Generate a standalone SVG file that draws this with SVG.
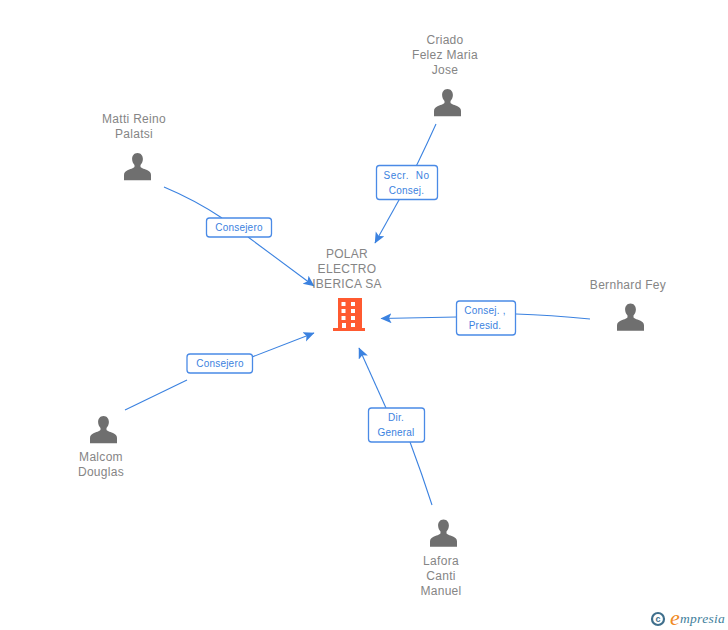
<svg xmlns="http://www.w3.org/2000/svg" width="728" height="630" viewBox="0 0 728 630">
<style>
text{font-family:"Liberation Sans",Arial,sans-serif}
.n{font-size:12px;fill:#858585;text-anchor:middle;letter-spacing:.3px}
.l{font-size:10px;fill:#3b82e0;text-anchor:middle;letter-spacing:.2px}
.c{fill:none;stroke:#3b82e0;stroke-width:1.1}
.b{fill:#fff;stroke:#4a8ae6;stroke-width:1.3}
.p{fill:#6f6f6f}
</style>
<defs>
<marker id="a" markerWidth="13" markerHeight="12" refX="10.500" refY="5" orient="auto" markerUnits="userSpaceOnUse"><path d="M0 0L11 5L0 10L2.500 5Z" fill="#3b82e0"/></marker>
<path id="u" d="M0-14.500C-3.600-14.500-5.400-11.500-5.400-8.500C-5.400-6-4.300-3.800-3-2.500V-.8C-3 .2-6 1-9.500 2.600C-12 3.800-13.500 5-13.500 7.500V12.800H13.500V7.500C13.500 5 12 3.800 9.500 2.600C6 1 3 .2 3-.8V-2.500C4.300-3.800 5.400-6 5.400-8.500C5.400-11.500 3.600-14.500 0-14.500Z"/>
</defs>
<g id="connectors">
<path class="c" d="M436 124Q418 164 399 200"/>
<path class="c" d="M399 200L375 243" marker-end="url(#a)"/>
<path class="c" d="M164 187Q195 200 222 218"/>
<path class="c" d="M248 237L314 286" marker-end="url(#a)"/>
<path class="c" d="M590 319Q550 315 516 314"/>
<path class="c" d="M457 317L381 318.500" marker-end="url(#a)"/>
<path class="c" d="M125 410L187 380"/>
<path class="c" d="M252 357L314 333" marker-end="url(#a)"/>
<path class="c" d="M432 505Q422 474 410 442"/>
<path class="c" d="M386 408L359 348" marker-end="url(#a)"/>
</g>
<g id="node-polar">
<text class="n" x="347" y="258">POLAR</text>
<text class="n" x="347" y="273">ELECTRO</text>
<text class="n" x="347" y="288">IBERICA SA</text>
<path fill="#ff5a30" fill-rule="evenodd" d="M338 298H362V328H365V331H333V328H338ZM341.500 302V306H345.500V302ZM351 302V306H355V302ZM341.500 309V313H345.500V309ZM351 309V313H355V309ZM341.500 316V320H345.500V316ZM351 316V320H355V316ZM342 323V328H346V323ZM351 323V327H355V323Z"/>
</g>
<g id="node-criado">
<text class="n" x="445" y="44">Criado</text>
<text class="n" x="445" y="59">Felez Maria</text>
<text class="n" x="445" y="74">Jose</text>
<use href="#u" class="p" x="447.500" y="103.500"/>
</g>
<g id="node-matti">
<text class="n" x="134" y="123">Matti Reino</text>
<text class="n" x="134" y="138">Palatsi</text>
<use href="#u" class="p" x="137.500" y="167.500"/>
</g>
<g id="node-bernhard">
<text class="n" x="628" y="289">Bernhard Fey</text>
<use href="#u" class="p" x="630.500" y="318"/>
</g>
<g id="node-malcom">
<use href="#u" class="p" x="103.500" y="430.500"/>
<text class="n" x="101" y="461">Malcom</text>
<text class="n" x="101" y="476">Douglas</text>
</g>
<g id="node-lafora">
<use href="#u" class="p" x="443.500" y="534"/>
<text class="n" x="441" y="565">Lafora</text>
<text class="n" x="441" y="580">Canti</text>
<text class="n" x="441" y="595">Manuel</text>
</g>
<g id="label-secr">
<rect class="b" x="376.500" y="165.500" width="61" height="34" rx="3"/>
<text class="l" x="406.500" y="179" xml:space="preserve" style="letter-spacing:.55px">Secr.  No</text>
<text class="l" x="406.500" y="194">Consej.</text>
</g>
<g id="label-matti">
<rect class="b" x="206.500" y="218" width="65" height="19" rx="3"/>
<text class="l" x="239" y="231">Consejero</text>
</g>
<g id="label-bernhard">
<rect class="b" x="456.500" y="301" width="59" height="34" rx="3"/>
<text class="l" x="485" y="314">Consej. ,</text>
<text class="l" x="485" y="329">Presid.</text>
</g>
<g id="label-malcom">
<rect class="b" x="187" y="354" width="65.500" height="19" rx="3"/>
<text class="l" x="220" y="367">Consejero</text>
</g>
<g id="label-lafora">
<rect class="b" x="368.500" y="408" width="56" height="34" rx="3"/>
<text class="l" x="396" y="421">Dir.</text>
<text class="l" x="396" y="436">General</text>
</g>
<g id="logo">
<circle cx="658" cy="619" r="6" fill="none" stroke="#3f6f8c" stroke-width="2.200"/>
<text x="658" y="622" font-size="9" font-weight="bold" fill="#3f6f8c" text-anchor="middle">c</text>
<text x="670" y="625" font-size="22" font-style="italic" fill="#f08a24" style="font-family:'Liberation Serif',serif">e</text>
<text x="680" y="623" font-size="13.500" font-style="italic" fill="#3f7f9c" letter-spacing=".3" style="font-family:'Liberation Serif',serif">mpresia</text>
</g>
</svg>
